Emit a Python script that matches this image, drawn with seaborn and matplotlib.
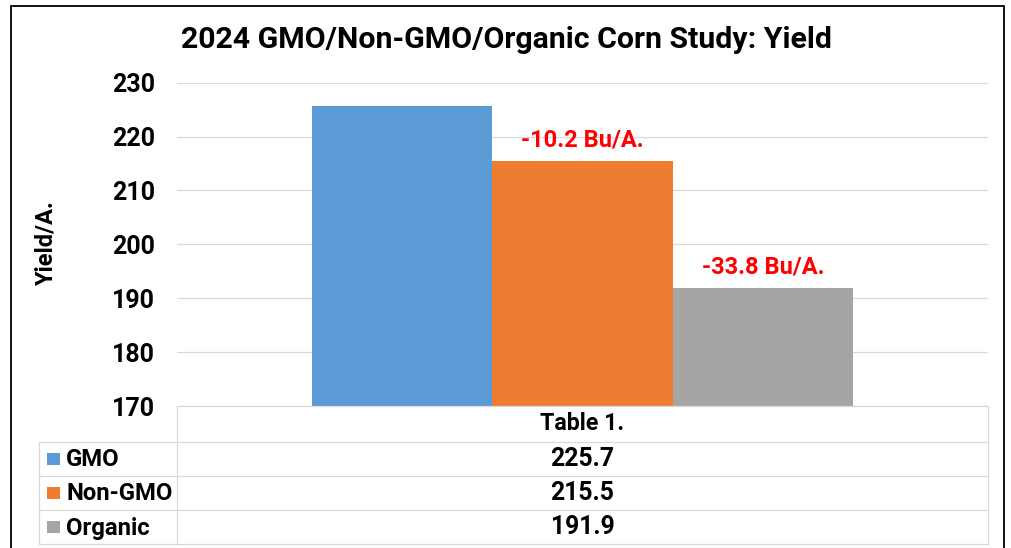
import matplotlib
matplotlib.use("Agg")
import matplotlib.pyplot as plt
from matplotlib.patches import Rectangle
from matplotlib.lines import Line2D
import seaborn as sns
import pandas as pd

# Data
series = ["GMO", "Non-GMO", "Organic"]
yields = [225.7, 215.5, 191.9]
group = "Table 1."
colors = ["#5B9BD5", "#ED7D31", "#A5A5A5"]
y_ticks = [170, 180, 190, 200, 210, 220, 230]
title = "2024 GMO/Non-GMO/Organic Corn Study: Yield"
y_label = "Yield/A."

sns.set_theme(style="white")
plt.rcParams["font.family"] = ["Roboto", "DejaVu Sans"]
plt.rcParams["font.weight"] = "bold"

W, H = 1011, 548
fig = plt.figure(figsize=(W / 100, H / 100), dpi=100)


def fx(px):
    return px / W


def fy(py):
    return 1 - py / H


# Plot area
left, right, top, bottom = 177, 988, 82.7, 406
ax = fig.add_axes([fx(left), fy(bottom), fx(right) - fx(left), fy(top) - fy(bottom)])

df = pd.DataFrame({"group": [group] * len(series), "series": series, "yield": yields})
sns.barplot(data=df, x="group", y="yield", hue="series", hue_order=series,
            palette=colors, saturation=1, width=0.668, linewidth=0,
            legend=False, ax=ax)

ax.set_ylim(y_ticks[0], y_ticks[-1])
ax.set_xlim(-0.5, 0.5)
ax.set_yticks(y_ticks)
ax.set_yticklabels([str(t) for t in y_ticks], fontsize=18, fontweight="bold", color="black")
ax.tick_params(axis="y", length=0, pad=16)
ax.set_xticks([])
ax.set_xlabel("")
ax.set_ylabel("")
ax.yaxis.grid(True, color="#D9D9D9", linewidth=0.9)
ax.set_axisbelow(True)
for side in ["top", "right", "left"]:
    ax.spines[side].set_visible(False)
ax.spines["bottom"].set_color("#D9D9D9")
ax.spines["bottom"].set_linewidth(0.9)

# Differences relative to GMO above the other bars
bars = ax.patches
for i in range(1, len(series)):
    diff = yields[i] - yields[0]
    b = bars[i]
    ax.annotate(f"{diff:.1f} Bu/A.", xy=(b.get_x() + b.get_width() / 2, yields[i]),
                xytext=(0, 14), textcoords="offset pixels", ha="center", va="baseline",
                color="#FF0000", fontsize=17, fontweight="bold")

# Title and y label
fig.text(fx(506.5), fy(48), title, ha="center", va="baseline",
         fontsize=21.8, fontweight="bold", color="black")
fig.text(fx(46), fy(243.5), y_label, rotation=90, ha="center", va="center",
         fontsize=17, fontweight="bold", color="black")

# Data table beneath the plot
grid_c = "#D9D9D9"
tbl_left = 39
rows_y = [442, 476, 510, 544]


def hline(y, x0, x1):
    fig.add_artist(Line2D([fx(x0), fx(x1)], [fy(y), fy(y)], color=grid_c, linewidth=0.9))


def vline(x, y0, y1):
    fig.add_artist(Line2D([fx(x), fx(x)], [fy(y0), fy(y1)], color=grid_c, linewidth=0.9))


for y in rows_y:
    hline(y, tbl_left, right)
vline(tbl_left, rows_y[0], rows_y[-1])
vline(left, bottom, rows_y[-1])
vline(right, bottom, rows_y[-1])

col_center = (left + right) / 2
fig.text(fx(col_center), fy(430), group, ha="center", va="baseline",
         fontsize=16.7, fontweight="bold", color="black")

for i, (name, val, c) in enumerate(zip(series, yields, colors)):
    y0, y1 = rows_y[i], rows_y[i + 1]
    mid = (y0 + y1) / 2
    base = mid + 7.5
    fig.add_artist(Rectangle((fx(47), fy(mid + 6.3)), fx(12.6), 12.6 / H,
                             facecolor=c, edgecolor="none"))
    fig.text(fx(66), fy(base), name, ha="left", va="baseline",
             fontsize=17.2, fontweight="bold", color="black")
    fig.text(fx(col_center), fy(base), f"{val:.1f}", ha="center", va="baseline",
             fontsize=17.8, fontweight="bold", color="black")

# Chart frame
fig.add_artist(Rectangle((fx(11), fy(560)), fx(1004) - fx(11), fy(6) - fy(560),
                         facecolor="none", edgecolor="black", linewidth=1.3))

fig.savefig("out.png", dpi=100)
